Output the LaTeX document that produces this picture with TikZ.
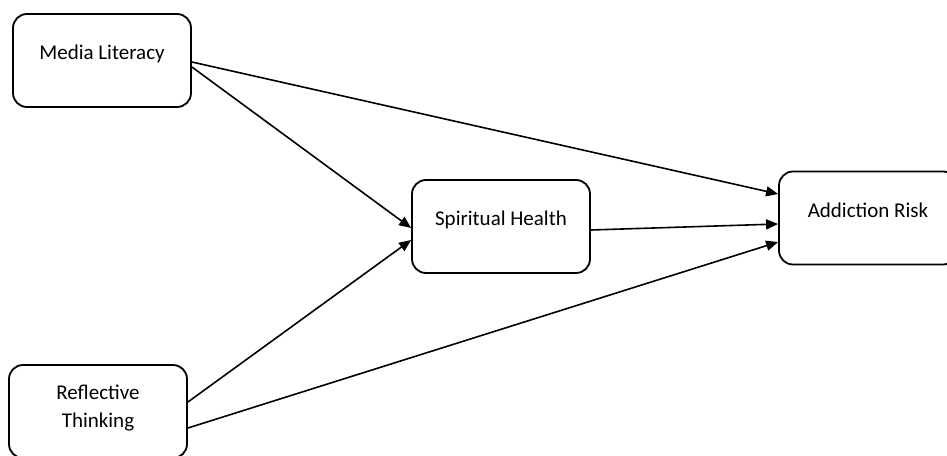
\documentclass[tikz,border=0pt]{standalone}
\usepackage{fontspec}
\setmainfont{Carlito}
\usetikzlibrary{arrows.meta}

\begin{document}
\begin{tikzpicture}[x=1pt, y=-1pt]
  \tikzset{
    box/.style={draw=black, line width=1.8pt, rounded corners=14pt, fill=white,
      minimum width=178pt, minimum height=93pt, inner sep=0pt},
    txt/.style={font=\fontsize{21}{28}\selectfont, align=center, text=black},
    arr/.style={draw=black, line width=1.6pt, -{Triangle[length=12pt, width=10pt]}}
  }

  % page size of the reference
  \useasboundingbox (0,0) rectangle (947,455);

  % boxes (text sits a little above the middle)
  \node[box, label={[txt, name=mltext, yshift=6.5pt]center:Media Literacy}] (ml) at (102,60.5) {};
  \node[box, label={[txt, name=shtext, yshift=7pt]center:Spiritual Health}] (sh) at (501,226.5) {};
  \node[box, label={[txt, name=artext, yshift=7.5pt]center:Addiction Risk}] (ar) at (868,218) {};
  \node[box, label={[txt, name=rttext, yshift=3.5pt]center:Reflective\\Thinking}] (rt) at (98,411.5) {};

  % paths
  \draw[arr] ([yshift=-1.5pt]ml.east) -- ([yshift=24pt]ar.west);
  \draw[arr] ([yshift=-6.5pt]ml.east) -- ([yshift=-1.5pt]sh.west);
  \draw[arr] ([yshift=-3.5pt]sh.east) -- ([yshift=-6pt]ar.west);
  \draw[arr] ([yshift=9.5pt]rt.east) -- ([yshift=-13.5pt]sh.west);
  \draw[arr] ([yshift=-16.5pt]rt.east) -- ([yshift=-24pt]ar.west);
\end{tikzpicture}
\end{document}
